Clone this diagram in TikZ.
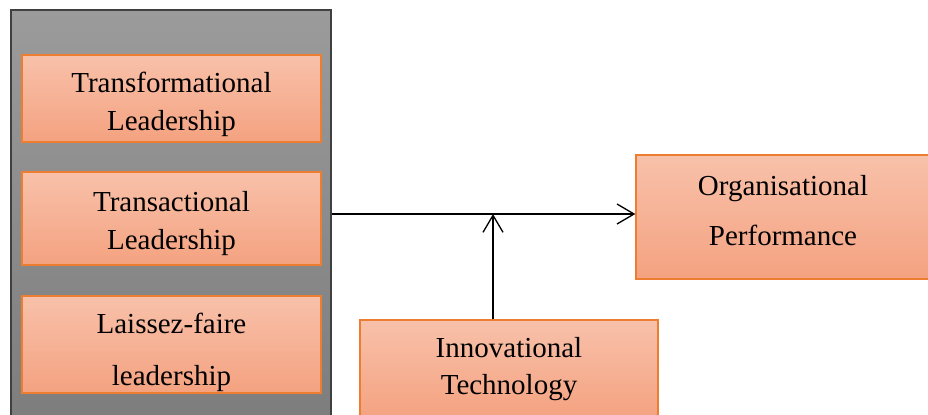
\documentclass[tikz,border=0pt]{standalone}
\usepackage{fontspec}
\setmainfont{Liberation Serif}
\usetikzlibrary{arrows.meta}
\definecolor{boxtop}{HTML}{F8C1AA}
\definecolor{boxbot}{HTML}{F4A280}
\definecolor{boxline}{HTML}{ED7D31}
\definecolor{greytop}{HTML}{9B9B9B}
\definecolor{greybot}{HTML}{7D7D7D}

\begin{document}
\begin{tikzpicture}[x=0.02cm,y=-0.02cm,>={Straight Barb[length=3.4mm,width=4mm]},
    font=\fontsize{16.5}{21.5}\selectfont]
    \tikzset{
        block/.style={
            draw=boxline,
            line width=0.8pt,
            top color=boxtop,
            bottom color=boxbot,
            minimum width=5.98cm,
            align=center,
            inner sep=0pt
        },
        style/.style={block},
        outcome/.style={block,minimum width=5.88cm,minimum height=2.48cm},
        group/.style={
            draw=black!75,
            line width=1pt,
            top color=greytop,
            bottom color=greybot,
            minimum width=6.40cm,
            minimum height=8.20cm
        },
        link/.style={->,line width=0.75pt}
    }
    \useasboundingbox (0,0) rectangle (928,414);

    \node[group] (grp) at (171,215) {};

    \node[style,minimum height=1.74cm,text height=40pt] (transf) at (171.5,98.5)
        {Transformational\\Leadership};
    \node[style,minimum height=1.86cm,text height=38.5pt] (transa) at (171.5,218.5)
        {Transactional\\Leadership};
    \node[style,minimum height=1.94cm,text height=50pt] (laissez) at (171.5,344.5)
        {Laissez-faire\\[8pt]leadership};

    \node[block,minimum width=5.96cm,minimum height=1.96cm] (innov) at (509,369)
        {Innovational\\Technology};
    \node[outcome,text depth=7pt] (perf) at (783,217)
        {Organisational\\[7pt]Performance};

    \coordinate (meet) at (493,214);
    \draw[link] (grp.east |- meet) -- (perf.west |- meet);
    \draw[link] (innov.north -| meet) -- (meet);
\end{tikzpicture}
\end{document}
